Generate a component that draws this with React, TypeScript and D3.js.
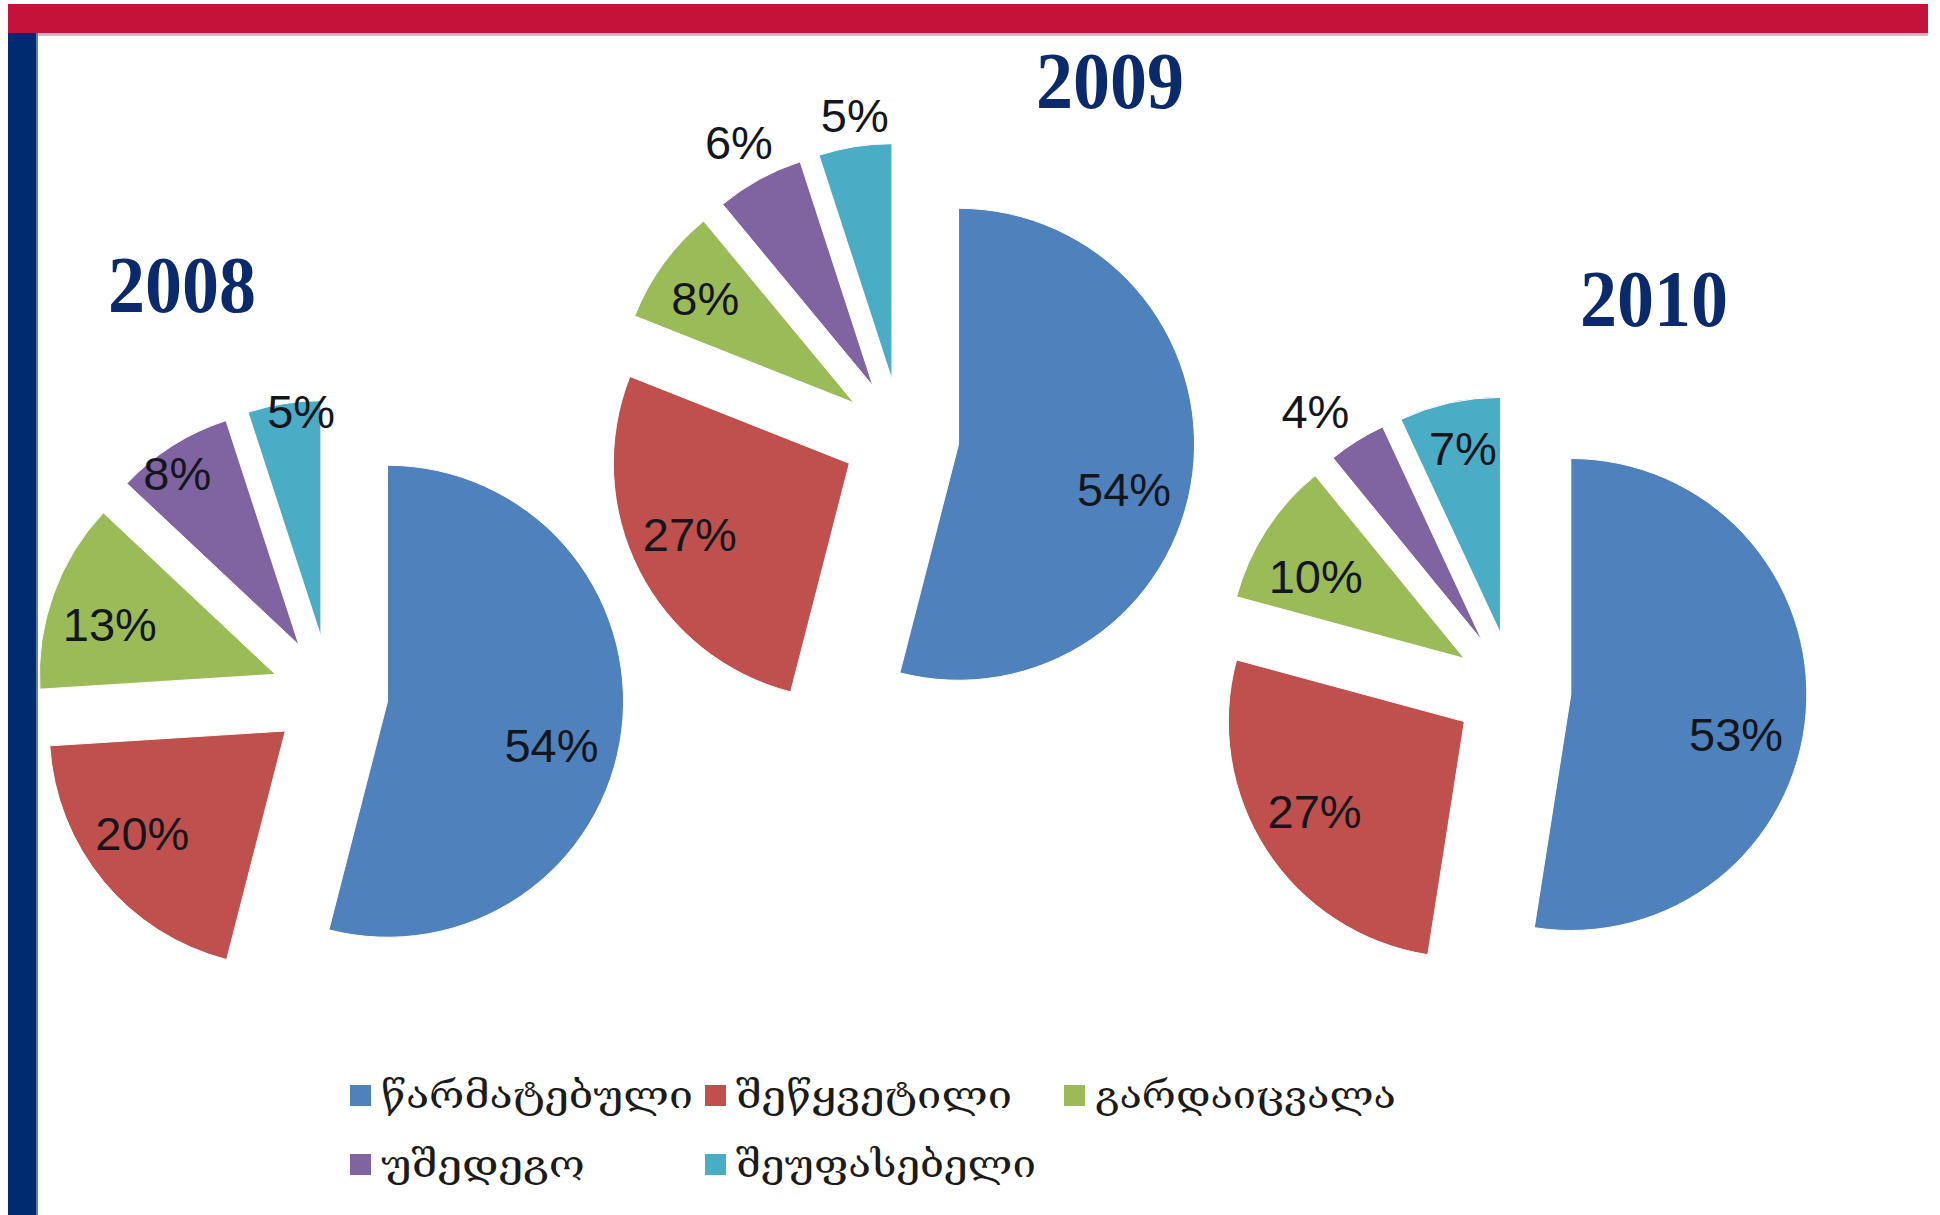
import * as d3 from "d3";

// three exploded pies, one per year, shared legend below

const categories = ["წარმატებული", "შეწყვეტილი", "გარდაიცვალა", "უშედეგო", "შეუფასებელი"];
const colors = ["#4F81BD", "#C0504D", "#9BBB59", "#8064A2", "#4BACC6"];
const years = ["2008", "2009", "2010"];
const values2008 = [54, 20, 13, 8, 5];
const values2009 = [54, 27, 8, 6, 5];
const values2010 = [53, 27, 10, 4, 7];

const W = 1940;
const H = 1215;
const R = 236;
const EXPLODE = 58;

// layout per pie: centre, title anchor, label radius (share of R) and label turn (deg)
const pies = [
  { values: values2008, cx: 330, cy: 694, tx: 182, ty: 312,
    labelR: [0.72, 0.745, 0.733, 0.89, 0.96], labelTurn: [8, 4, -3, -3, 4] },
  { values: values2009, cx: 901, cy: 437, tx: 1110, ty: 108,
    labelR: [0.727, 0.74, 0.77, 1.18, 1.13], labelTurn: [8, 3, -1, 0, 1] },
  { values: values2010, cx: 1513, cy: 690, tx: 1654, ty: 326,
    labelR: [0.72, 0.74, 0.72, 1.2, 0.8], labelTurn: [9, 2, -4, -4, 1] },
];

// legend grid
const legendCols = [350, 705, 1064];
const legendRows = [1095, 1164];
const legendTextLen = [312, 276, 301, 204, 300];

const pie = d3.pie<number>().sort(null).value((d) => d);
const arc = d3.arc<d3.PieArcDatum<number>>().innerRadius(0).outerRadius(R);

function Pie({ p }: { p: (typeof pies)[number] }) {
  const arcs = pie(p.values);
  const parts = arcs.map((a, i) => {
    const mid = (a.startAngle + a.endAngle) / 2;
    const ox = EXPLODE * Math.sin(mid);
    const oy = -EXPLODE * Math.cos(mid);
    const la = mid + (p.labelTurn[i] * Math.PI) / 180;
    const lr = p.labelR[i] * R;
    return { a, ox, oy, lx: ox + lr * Math.sin(la), ly: oy - lr * Math.cos(la) };
  });
  return (
    <g transform={`translate(${p.cx},${p.cy})`}>
      {parts.map((s, i) => (
        <path key={i} d={arc(s.a) || ""} transform={`translate(${s.ox},${s.oy})`}
          fill={colors[i]} stroke="#fff" strokeWidth={1} />
      ))}
      {parts.map((s, i) => (
        <text key={"l" + i} x={s.lx} y={s.ly} textAnchor="middle" dominantBaseline="central"
          fontFamily="Liberation Sans, Arial, sans-serif" fontSize={47} fill="#14161c">
          {p.values[i]}%
        </text>
      ))}
    </g>
  );
}

export default function App() {
  return (
    <div style={{ position: "absolute", left: 0, top: 0 }}>
      <svg width={W} height={H} style={{ display: "block", background: "#fff" }}>
        {pies.map((p, i) => <Pie key={i} p={p} />)}

        {pies.map((p, i) => (
          <text key={"t" + i} transform={`translate(${p.tx},${p.ty}) scale(1,1.08)`}
            textAnchor="middle" fontFamily="Liberation Serif, Times New Roman, serif"
            fontWeight="bold" fontSize={74} fill="#0B2A6B">
            {years[i]}
          </text>
        ))}

        {categories.map((c, i) => {
          const x = legendCols[i < 3 ? i : i - 3];
          const y = legendRows[i < 3 ? 0 : 1];
          return (
            <g key={"lg" + i}>
              <rect x={x} y={y - 10} width={21} height={21} fill={colors[i]} />
              <text x={x + 31} y={y + 13} fontFamily="DejaVu Serif, DejaVu Sans, serif"
                fontSize={38} fill="#1b1b1b" textLength={legendTextLen[i]}
                lengthAdjust="spacingAndGlyphs">
                {c}
              </text>
            </g>
          );
        })}

        {/* frame: red top band and navy left band */}
        <rect x={8} y={33} width={1920} height={3} fill="#d9b8c4" />
        <rect x={8} y={4} width={1920} height={29} fill="#C4133A" />
        <rect x={8} y={33} width={30} height={H - 33} fill="#002B70" />
        <rect x={36} y={33} width={2} height={H - 33} fill="#5a7fb8" />
      </svg>
    </div>
  );
}
